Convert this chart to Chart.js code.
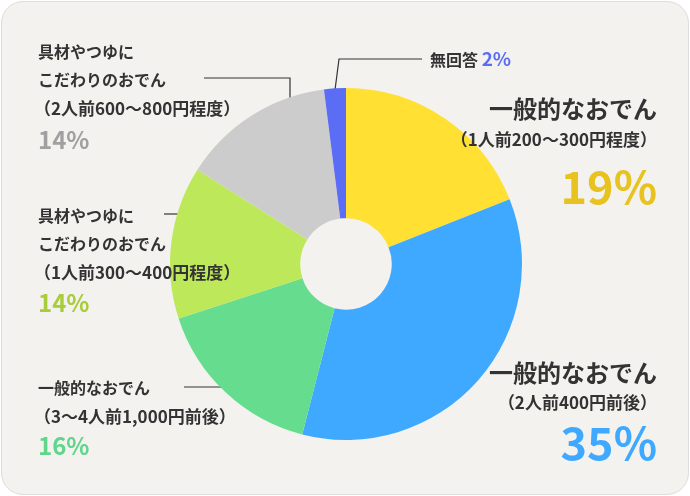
<!DOCTYPE html>
<html><head><meta charset="utf-8">
<script src="https://cdn.jsdelivr.net/npm/chart.js@4"></script>
<style>
body{margin:0;width:690px;height:496px;font-family:"Noto Sans CJK JP","Noto Sans",sans-serif;color:#333;}
#box{position:absolute;left:1px;top:1px;width:686px;height:492px;background:#f4f2ef;border:1px solid #ddd;border-radius:22px;overflow:hidden;}
#wrap{position:absolute;left:164px;top:86px;width:360px;height:352px;}
#lines{position:absolute;left:0;top:0;}
.t{position:absolute;white-space:nowrap;font-weight:700;font-size:16px;line-height:1;}
.r{text-align:right;}
.sub{font-size:17px;}
.big{font-size:24px;font-weight:700;}
.pct{font-size:24px;font-weight:700;}
.pctb{font-size:45px;font-weight:700;}
</style></head><body>
<div id="box">
<canvas id="lines" width="690" height="496"></canvas>
<div id="wrap"><canvas id="pie"></canvas></div>
<div id="labels"></div>
</div>
<script>
const categories = ["一般的なおでん（1人前200〜300円程度）","一般的なおでん（2人前400円前後）","一般的なおでん（3〜4人前1,000円前後）","具材やつゆにこだわりのおでん（1人前300〜400円程度）","具材やつゆにこだわりのおでん（2人前600〜800円程度）","無回答"];
const values = [19, 35, 16, 14, 14, 2];
const colors = ["#ffe033", "#3fa9ff", "#66dd8e", "#bde85a", "#cccccc", "#5b6cf5"];

new Chart(document.getElementById("pie"), {
  type: "pie",
  data: { labels: categories, datasets: [{ data: values, backgroundColor: colors, borderWidth: 0 }] },
  options: {
    responsive: true, maintainAspectRatio: false, animation: false, cutout: "26%",
    layout: { padding: 0 },
    plugins: { legend: { display: false }, tooltip: { enabled: false } }
  }
});

// text labels
const texts = [
  { x: 428, y: 46, html: '無回答 <span style="color:#5b6cf5;font-size:19px">2%</span>' },
  { rx: 657, y: 94, cls: "big", html: "一般的なおでん" },
  { rx: 657, y: 128, cls: "sub", html: "（1人前200〜300円程度）" },
  { rx: 657, y: 160, cls: "pctb", html: '<span style="color:#e8c21e">19%</span>' },
  { rx: 657, y: 358, cls: "big", html: "一般的なおでん" },
  { rx: 657, y: 391, cls: "sub", html: "（2人前400円前後）" },
  { rx: 657, y: 416, cls: "pctb", html: '<span style="color:#3fa9ff">35%</span>' },
  { x: 36, y: 41, html: "具材やつゆに" },
  { x: 36, y: 69, html: "こだわりのおでん" },
  { x: 32, y: 97, cls: "sub", html: "（2人前600〜800円程度）" },
  { x: 36, y: 125, cls: "pct", html: '<span style="color:#a0a0a0">14%</span>' },
  { x: 36, y: 205, html: "具材やつゆに" },
  { x: 36, y: 233, html: "こだわりのおでん" },
  { x: 32, y: 261, cls: "sub", html: "（1人前300〜400円程度）" },
  { x: 36, y: 288, cls: "pct", html: '<span style="color:#a8cc3a">14%</span>' },
  { x: 36, y: 377, html: "一般的なおでん" },
  { x: 32, y: 405, cls: "sub", html: "（3〜4人前1,000円前後）" },
  { x: 36, y: 431, cls: "pct", html: '<span style="color:#5fd68a">16%</span>' }
];
const lab = document.getElementById("labels");
texts.forEach(t => {
  const d = document.createElement("div");
  d.className = "t " + (t.cls || "");
  d.innerHTML = t.html;
  d.style.top = t.y + "px";
  if (t.rx !== undefined) { d.style.right = (688 - t.rx) + "px"; d.classList.add("r"); }
  else d.style.left = t.x + "px";
  lab.appendChild(d);
});

// leader lines
const lc = document.getElementById("lines").getContext("2d");
lc.strokeStyle = "#333"; lc.lineWidth = 1.2;
[[[333, 88], [337, 57], [420, 57]],
 [[288, 100], [288, 76], [202, 76]],
 [[162, 212], [190, 212]],
 [[182, 385], [232, 385]]].forEach(p => {
  lc.beginPath(); lc.moveTo(p[0][0], p[0][1]);
  p.slice(1).forEach(q => lc.lineTo(q[0], q[1]));
  lc.stroke();
});
</script>
</body></html>
